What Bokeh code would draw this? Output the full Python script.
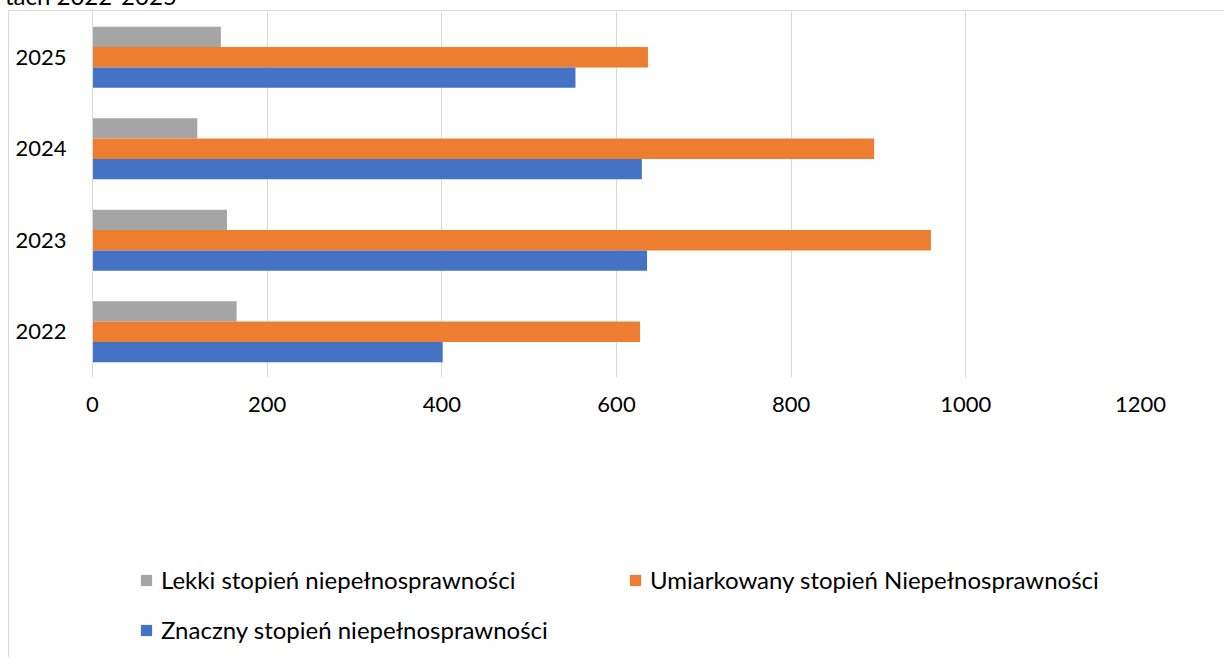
from bokeh.plotting import figure
from bokeh.layouts import column
from bokeh.models import (ColumnDataSource, FactorRange, Range1d, Legend, LegendItem,
                          FixedTicker, Div)
from bokeh.transform import dodge
from bokeh.embed import file_html
from bokeh.resources import INLINE

years = ["2022", "2023", "2024", "2025"]
lekki = [165, 154, 120, 147]
umiarkowany = [627, 960, 895, 636]
znaczny = [401, 635, 629, 553]
x_ticks = [0, 200, 400, 600, 800, 1000, 1200]

title_fragment = "tach 2022-2025"
labels = ["Lekki stopień niepełnosprawności",
          "Umiarkowany stopień Niepełnosprawności",
          "Znaczny stopień niepełnosprawności"]
colors = ["#A5A5A5", "#ED7D31", "#4472C4"]

FONT = "Lato"
W = 1214
FL = 83
FRAME_W, FRAME_H = 1048, 366
H_MAIN = 426
H_LEG = 220

src = ColumnDataSource(dict(year=years, lekki=lekki, umiarkowany=umiarkowany, znaczny=znaczny))

p = figure(width=W, height=H_MAIN, x_range=Range1d(0, 1200), y_range=FactorRange(*years),
           output_backend="svg", toolbar_location=None,
           min_border_left=FL, min_border_right=W - FL - FRAME_W,
           min_border_top=0, min_border_bottom=H_MAIN - FRAME_H)
p.outline_line_color = None
p.background_fill_color = "white"
p.border_fill_color = "white"

bh = 0.222
p.hbar(y=dodge("year", bh, range=p.y_range), right="lekki", left=0, height=bh,
       source=src, color=colors[0], line_color=None)
p.hbar(y=dodge("year", 0, range=p.y_range), right="umiarkowany", left=0, height=bh,
       source=src, color=colors[1], line_color=None)
p.hbar(y=dodge("year", -bh, range=p.y_range), right="znaczny", left=0, height=bh,
       source=src, color=colors[2], line_color=None)

p.xaxis.ticker = FixedTicker(ticks=x_ticks)
p.xaxis.axis_line_color = None
p.xaxis.major_tick_line_color = None
p.xaxis.minor_tick_line_color = None
p.xaxis.major_tick_out = 0
p.xaxis.major_label_text_font = FONT
p.xaxis.major_label_text_font_size = "22px"
p.xaxis.major_label_text_color = "#000000"
p.xaxis.major_label_standoff = 19

p.yaxis.axis_line_color = "#d9d9d9"
p.yaxis.major_tick_line_color = None
p.yaxis.minor_tick_line_color = None
p.yaxis.major_tick_out = 0
p.yaxis.major_label_text_font = FONT
p.yaxis.major_label_text_font_size = "22px"
p.yaxis.major_label_text_color = "#000000"
p.yaxis.major_label_standoff = 26

p.xgrid.grid_line_color = "#d9d9d9"
p.xgrid.grid_line_width = 1
p.ygrid.grid_line_color = None

# legend area (separate figure below the chart, same series styling)
lf = figure(width=W, height=H_LEG, x_range=Range1d(0, 1), y_range=Range1d(0, 1),
            output_backend="svg", toolbar_location=None,
            x_axis_location=None, y_axis_location=None,
            min_border_left=0, min_border_right=0, min_border_top=0, min_border_bottom=0)
lf.outline_line_color = None
lf.grid.grid_line_color = None
lf.background_fill_color = "white"
lf.border_fill_color = "white"

# legend-only renderers: a zero-size bar placed outside the visible range
proxy = ColumnDataSource(dict(y=[-5], right=[0]))
lr = [lf.hbar(y="y", right="right", left=0, height=0.1, source=proxy,
              color=c, line_color=None) for c in colors]

def make_legend(items, loc, label_width):
    lg = Legend(items=items, location=loc, orientation="horizontal",
                padding=0, margin=0, spacing=0,
                border_line_color=None, background_fill_alpha=0,
                glyph_width=14, glyph_height=14, label_standoff=8,
                label_width=label_width, label_height=20,
                label_text_font=FONT, label_text_font_size="24px",
                label_text_color="#000000")
    lf.add_layout(lg)

LEG_TOP = 437
LX = 139 - 92
make_legend([LegendItem(label=labels[0], renderers=[lr[0]]),
             LegendItem(label=labels[1], renderers=[lr[1]])],
            (LX, H_LEG - (594 - LEG_TOP)), 467)
make_legend([LegendItem(label=labels[2], renderers=[lr[2]])],
            (LX, H_LEG - (644 - LEG_TOP)), 420)

inner = column(p, lf, spacing=0)
inner.styles = {"border-left": "1px solid #d9d9d9", "border-top": "1px solid #d9d9d9",
                "margin-left": "8px", "margin-top": "-10px"}

# fragment of the document title visible above the chart (cut off by the page top)
head = Div(text=('<div style="position:relative; top:-26px; font-family:Lato; '
                 'font-size:24px; color:#000; white-space:nowrap;">%s</div>' % title_fragment),
           width=400, height=10)

layout = column(head, inner, spacing=0)

open("out.html", "w").write(file_html(layout, INLINE))
